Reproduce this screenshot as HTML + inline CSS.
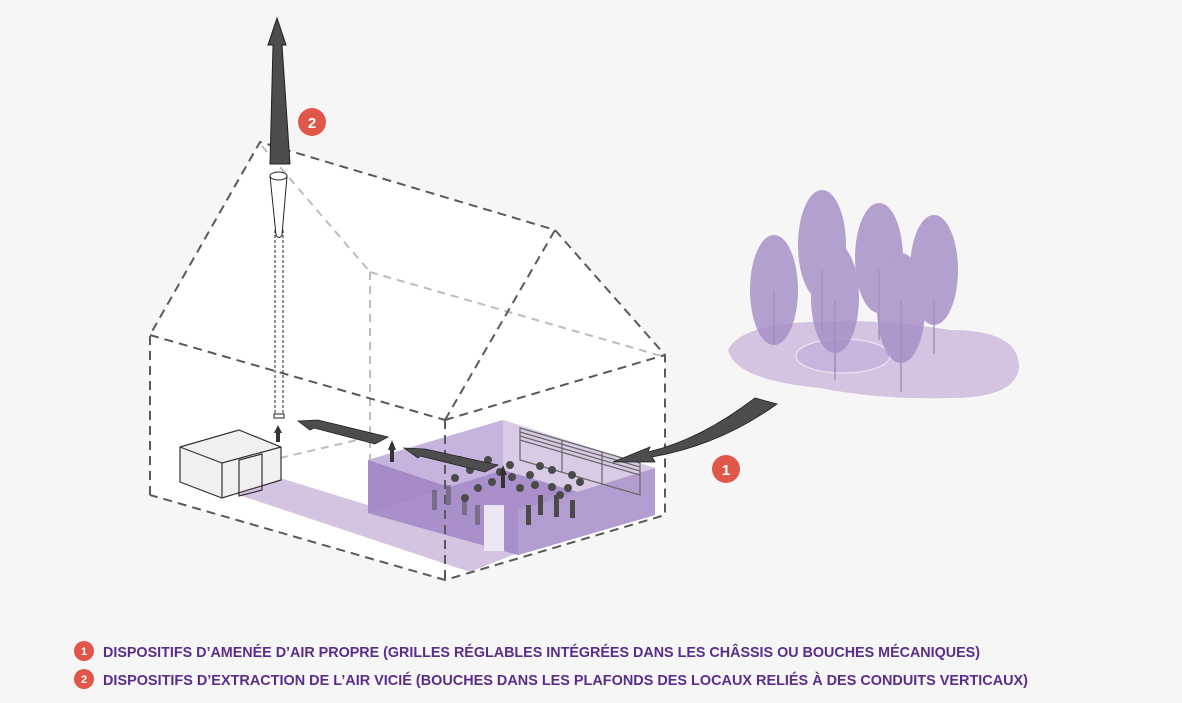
<!DOCTYPE html>
<html><head><meta charset="utf-8"><style>
html,body{margin:0;padding:0;background:#f6f6f6;}
svg{display:block}
.t{font-family:"Liberation Sans",sans-serif;font-weight:bold;font-size:15px;fill:#5b2d8a}
</style></head><body>
<svg width="1182" height="703" viewBox="0 0 1182 703" xmlns="http://www.w3.org/2000/svg">
<rect width="1182" height="703" fill="#f6f6f6"/>
<!-- house body -->
<polygon points="150,335 260,142 555,230 665,355 665,515 445,580 150,495" fill="#ffffff"/>
<!-- floor strip -->
<polygon points="230,492 280,478 520,552 470,572" fill="#d4c4e2"/>
<!-- hidden lines -->
<g stroke="#bdbdbd" stroke-width="2" stroke-dasharray="8,6" fill="none">
<line x1="262" y1="146" x2="370" y2="272"/>
<line x1="370" y1="272" x2="665" y2="357"/>
<line x1="370" y1="272" x2="370" y2="460"/>
<line x1="280" y1="458" x2="370" y2="437"/>
</g>
<!-- room -->
<polygon points="368,460 503,420 655,468 655,515 518,555 368,513" fill="#b8a3d2"/>
<polygon points="503,420 655,468 655,515 503,470" fill="#d9cbe6"/>
<polygon points="368,460 503,420 503,470 368,513" fill="#c9b6df" opacity="0.9"/>
<polygon points="368,460 518,510 518,555 368,513" fill="#a48bc6"/>
<polygon points="503,470 655,515 518,555 368,513" fill="#a990cb"/>
<polygon points="518,510 655,468 655,515 518,555" fill="#b39dd0"/>
<rect x="484" y="505" width="20" height="46" fill="#ece6f2"/>
<g stroke="#666" stroke-width="1.2" fill="none">
<polygon points="520,428 640,463 640,495 520,460"/>
<line x1="520" y1="432" x2="640" y2="467"/><line x1="520" y1="436" x2="640" y2="471"/><line x1="520" y1="440" x2="640" y2="475"/>
<line x1="562" y1="441" x2="562" y2="472"/><line x1="602" y1="452" x2="602" y2="484"/>
</g>
<!-- people / balloons -->
<g fill="#4a4a4a">
<circle cx="460" cy="460" r="4"/><circle cx="470" cy="470" r="4"/><circle cx="488" cy="460" r="4"/><circle cx="500" cy="472" r="4"/><circle cx="512" cy="477" r="4"/><circle cx="530" cy="475" r="4"/><circle cx="540" cy="466" r="4"/><circle cx="552" cy="470" r="4"/><circle cx="572" cy="475" r="4"/><circle cx="580" cy="482" r="4"/><circle cx="568" cy="488" r="4"/><circle cx="478" cy="488" r="4"/><circle cx="465" cy="498" r="4"/><circle cx="492" cy="482" r="4"/><circle cx="520" cy="488" r="4"/><circle cx="552" cy="487" r="4"/><circle cx="455" cy="478" r="4"/><circle cx="510" cy="465" r="4"/><circle cx="535" cy="485" r="4"/><circle cx="560" cy="495" r="4"/>
<rect x="526" y="505" width="5" height="20"/><rect x="538" y="495" width="5" height="20"/><rect x="554" y="495" width="5" height="22"/><rect x="570" y="500" width="5" height="18"/>
<rect x="432" y="490" width="5" height="20" opacity="0.5"/><rect x="446" y="485" width="5" height="20" opacity="0.5"/><rect x="462" y="495" width="5" height="20" opacity="0.5"/><rect x="475" y="505" width="5" height="20" opacity="0.5"/>
</g>
<!-- visible dashed edges -->
<g stroke="#5a5a5a" stroke-width="2" stroke-dasharray="9,6" fill="none">
<polyline points="150,495 150,335 260,142 555,230 665,355 665,515 445,580 150,495"/>
<line x1="150" y1="335" x2="445" y2="420"/>
<line x1="445" y1="420" x2="665" y2="355"/>
<line x1="445" y1="420" x2="445" y2="580"/>
<line x1="445" y1="420" x2="555" y2="230"/>
</g>
<!-- duct -->
<g stroke="#222" stroke-width="1" fill="#fff">
<line x1="275" y1="230" x2="275" y2="415" stroke-dasharray="3,2"/>
<line x1="283" y1="230" x2="283" y2="415" stroke-dasharray="3,2"/>
<path d="M270,176 L287,176 L282,235 Q279,240 276,235 Z"/>
<ellipse cx="278.5" cy="176" rx="8.5" ry="4"/>
<rect x="274" y="414" width="10" height="4"/>
</g>
<!-- exhaust arrow -->
<polygon points="277,18 286,45 282,45 290,164 270,164 273,45 268,45" fill="#4d4d4f" stroke="#222" stroke-width="1"/>
<!-- small building -->
<g stroke="#333" stroke-width="1.2" fill="#f1eff2">
<polygon points="180,447 239,430 281,447 281,480 222,498 180,482"/>
<polyline points="180,447 222,463 281,447" fill="none"/>
<line x1="222" y1="463" x2="222" y2="498"/>
<polygon points="239,460 262,454 262,490 239,496" fill="none"/>
</g>
<!-- small arrows up -->
<g fill="#333"><polygon points="278,425 282,433 280,433 280,442 276,442 276,433 274,433"/>
<polygon points="392,440 396,450 394,450 394,462 390,462 390,450 388,450"/>
<polygon points="503,465 507,475 505,475 505,488 501,488 501,475 499,475"/></g>
<!-- internal flow arrows -->
<polygon points="298,421 318,420 388,437 375,444 314,428 310,430" fill="#4d4d4f" stroke="#222" stroke-width="0.8"/>
<polygon points="404,448 425,449 498,465 485,472 420,456 418,458" fill="#4d4d4f" stroke="#222" stroke-width="0.8"/>
<!-- inlet arrow -->
<path d="M777,404 L755,398 Q700,440 648,452 L650,447 L613,462 L655,462 L652,457 Q720,445 777,404 Z" fill="#4d4d4f" stroke="#222" stroke-width="0.8"/>
<!-- trees -->
<path d="M728,350 Q740,325 810,322 Q880,318 950,330 Q1020,330 1019,368 Q1015,398 950,398 Q880,400 820,388 Q735,380 728,350 Z" fill="#d4c4e2"/>
<ellipse cx="843" cy="356" rx="47" ry="17" fill="#c8b5dd" stroke="#e8def0" stroke-width="1.5"/>
<g stroke="#8a78a0" stroke-width="1"><line x1="774" y1="290" x2="774" y2="345"/><line x1="835" y1="300" x2="835" y2="380"/><line x1="901" y1="300" x2="901" y2="392"/><line x1="934" y1="300" x2="934" y2="354"/><line x1="822" y1="270" x2="822" y2="330"/><line x1="879" y1="270" x2="879" y2="340"/></g>
<g fill="#a58ec6" opacity="0.82">
<ellipse cx="774" cy="290" rx="24" ry="55"/>
<ellipse cx="822" cy="245" rx="24" ry="55"/>
<ellipse cx="879" cy="258" rx="24" ry="55"/>
<ellipse cx="934" cy="270" rx="24" ry="55"/>
<ellipse cx="835" cy="298" rx="24" ry="55"/>
<ellipse cx="901" cy="308" rx="24" ry="55"/>
</g>
<!-- badges -->
<circle cx="312" cy="122" r="14" fill="#e0574a"/><text x="312" y="128" text-anchor="middle" font-family="Liberation Sans,sans-serif" font-weight="bold" font-size="15" fill="#fff">2</text>
<circle cx="726" cy="469" r="14" fill="#e0574a"/><text x="726" y="475" text-anchor="middle" font-family="Liberation Sans,sans-serif" font-weight="bold" font-size="15" fill="#fff">1</text>
<!-- legend -->
<circle cx="84" cy="651" r="10" fill="#e0574a"/><text x="84" y="655" text-anchor="middle" font-family="Liberation Sans,sans-serif" font-weight="bold" font-size="11" fill="#fff">1</text>
<circle cx="84" cy="679" r="10" fill="#e0574a"/><text x="84" y="683" text-anchor="middle" font-family="Liberation Sans,sans-serif" font-weight="bold" font-size="11" fill="#fff">2</text>
<text class="t" x="103" y="657" textLength="877" lengthAdjust="spacingAndGlyphs">DISPOSITIFS D’AMENÉE D’AIR PROPRE (GRILLES RÉGLABLES INTÉGRÉES DANS LES CHÂSSIS OU BOUCHES MÉCANIQUES)</text>
<text class="t" x="103" y="685" textLength="925" lengthAdjust="spacingAndGlyphs">DISPOSITIFS D’EXTRACTION DE L’AIR VICIÉ (BOUCHES DANS LES PLAFONDS DES LOCAUX RELIÉS À DES CONDUITS VERTICAUX)</text>
</svg>
</body></html>
